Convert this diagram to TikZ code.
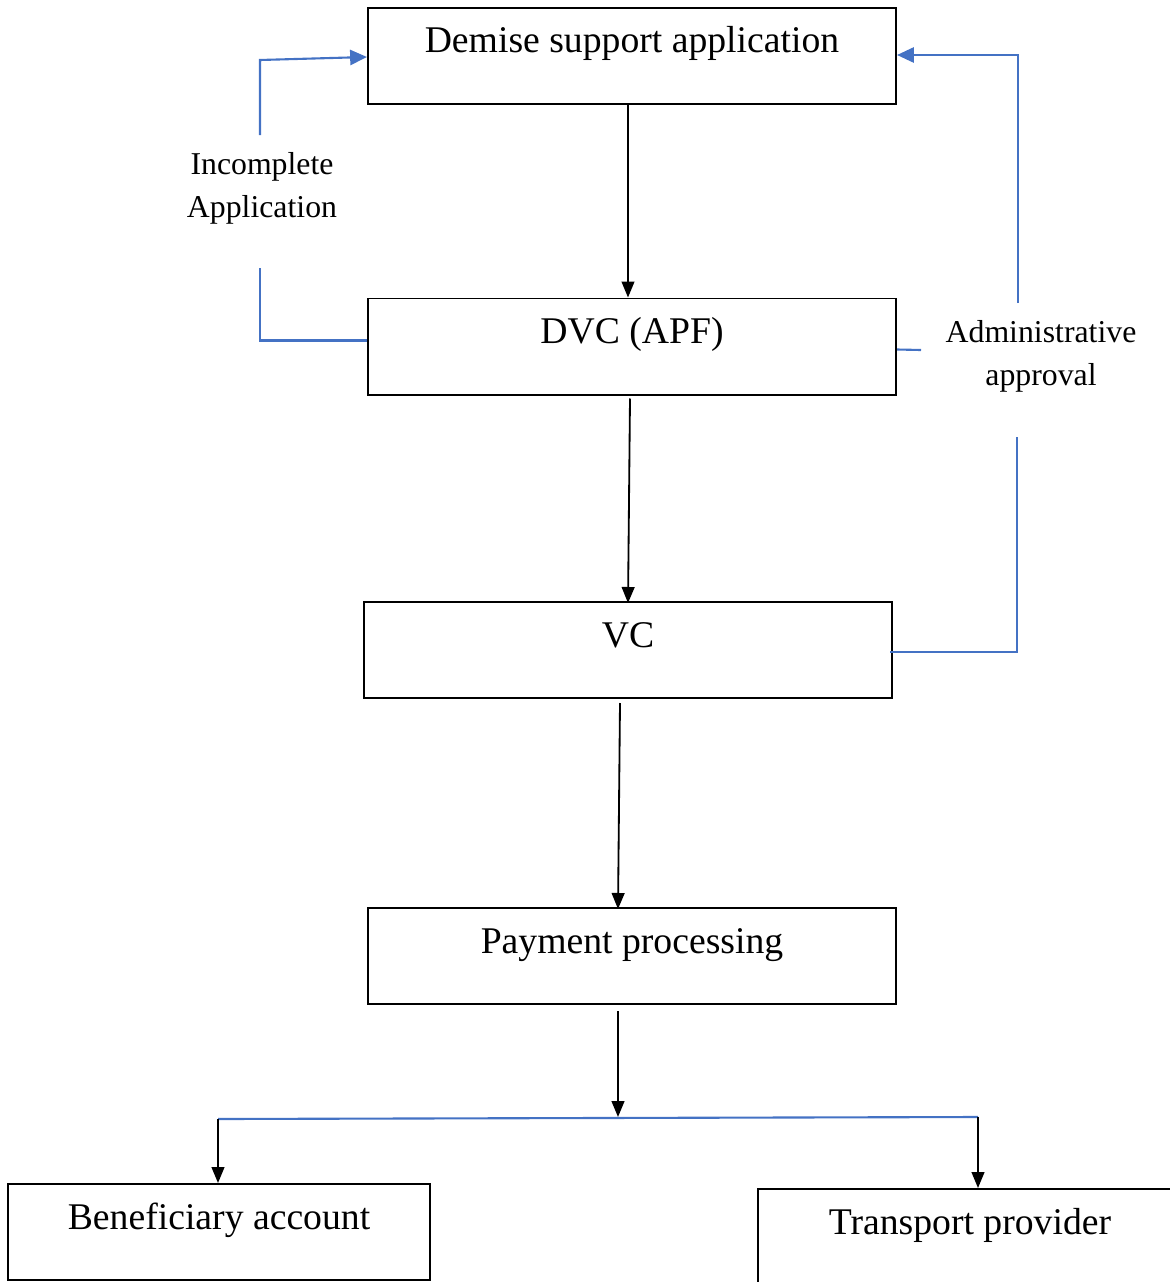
\documentclass[tikz,border=0pt]{standalone}
\usepackage{fontspec}
\setmainfont{Liberation Serif}
\usetikzlibrary{arrows.meta,calc}

\definecolor{linkblue}{RGB}{68,114,196}

\tikzset{
    box/.style={draw, line width=1.4pt, rectangle, inner xsep=0pt, inner ysep=0pt,
        minimum width=13.2cm, text height=1.125cm, text depth=1.275cm,
        font=\fontsize{26.8}{30}\selectfont},
    note/.style={align=center, font=\fontsize{22.6}{30.5}\selectfont},
    flow/.style={line width=1.3pt, -{Triangle[width=0.32cm,length=0.4cm]}},
    back/.style={draw=linkblue, line width=1.5pt},
    backarrow/.style={back, -{Triangle[width=0.38cm,length=0.42cm]}, linkblue}
}

\begin{document}
\begin{tikzpicture}[x=0.025cm, y=-0.025cm]
    \useasboundingbox (0,0) rectangle (1170,1282);

    % Main chain of boxes
    \node[box] (demise) at (632,56) {Demise support application};
    \node[box] (dvc) at (632,346.5) {DVC (APF)};
    \node[box] (vc) at (628,650) {VC};
    \node[box] (pay) at (632,956) {Payment processing};

    % Two outcomes at the bottom
    \node[box, minimum width=10.55cm] (ben) at (219,1232) {Beneficiary account};
    \node[box, minimum width=10.6cm] (trans) at (970,1237) {Transport provider};

    % Side labels
    \node[note] (inc) at (262,188) {Incomplete\\Application};
    \node[note] (adm) at (1041,356) {Administrative\\approval};

    % Free ends of the blue loops
    \coordinate (incLo) at (260,268);
    \coordinate (incHi) at (260,135);
    \coordinate (incTop) at (260,60);
    \coordinate (admStub) at (921,350);
    \coordinate (admLo) at (1017,437);
    \coordinate (admHi) at (1018,303);

    % Split below payment
    \coordinate (split) at (618,1117);
    \coordinate (bl) at (218,1119);
    \coordinate (br) at (978,1117);

    % Black flow arrows
    \draw[flow] ($(demise.south)+(-4,0)$) -- ($(dvc.north)+(-4,0)$);
    \draw[flow] ($(dvc.south)+(-2,3)$) -- ($(vc.north)+(0,2)$);
    \draw[flow] ($(vc.south)+(-8,4)$) -- ($(pay.north)+(-14,2)$);
    \draw[flow] ($(pay.south)+(-14,6)$) -- (split);
    \draw[back] (bl) -- (br);
    \draw[flow] (bl) -- (bl |- ben.north);
    \draw[flow] (br) -- (br |- trans.north);

    % Incomplete application goes back
    \draw[back] ($(dvc.west)+(0,-6)$) -| (incLo);
    \draw[backarrow] (incHi) -- (incTop) -- ($(demise.west)+(0,1)$);

    % Administrative approval goes back
    \draw[back] ($(dvc.east)+(0,3)$) -- (admStub);
    \draw[back] ($(vc.east)+(-3,2)$) -| (admLo);
    \draw[backarrow] (admHi) |- ($(demise.east)+(0,-1)$);
\end{tikzpicture}
\end{document}
